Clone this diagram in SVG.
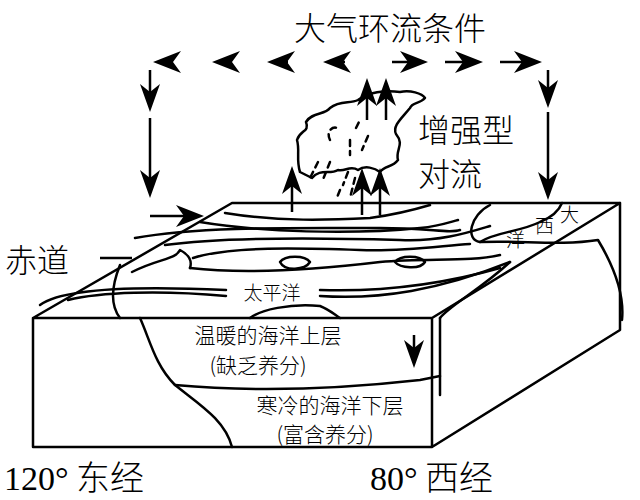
<svg xmlns="http://www.w3.org/2000/svg" width="640" height="500" viewBox="0 0 640 500">
<defs>
<path id="hl" d="M0,0 L28,-11 L20,0 L28,11 Z"/>
<path id="hr" d="M0,0 L-28,-11 L-20,0 L-28,11 Z"/>
<path id="hd" d="M0,0 L-10,-28 L0,-20 L10,-28 Z"/>
<path id="hu" d="M0,0 L-10,28 L0,20 L10,28 Z"/>
<style>
.l{fill:none;stroke:#000;stroke-width:2.5;stroke-linejoin:round;stroke-linecap:round}
.w{fill:none;stroke:#000;stroke-width:2.5}
.t{font-family:"Noto Sans CJK SC","Liberation Sans",sans-serif;font-weight:300;fill:#000}
.n{font-family:"Liberation Serif",serif;font-weight:400}
use{fill:#000}
</style>
</defs>
<rect width="640" height="500" fill="#fff"/>
<g id="block">
<path class="l" d="M232,203 L620,203 L620,330 L432,447 L33,447 L33,318 Z M33,318 L432,318 L620,203 M432,318 L432,447 M33,318 L232,203"/>
</g>
<g id="ocean" class="l">
<path d="M225,213 C280,222 330,220 370,218 C400,214 420,208 430,205"/>
<path d="M200,222 C260,232 350,235 420,228 C440,226 450,222 458,220"/>
<path d="M165,245 C230,236 330,238 400,240 C440,242 470,232 490,226"/>
<path d="M135,238 C200,226 300,228 380,228 C430,228 450,234 460,230"/>
<path d="M193,258 C230,246 300,248 360,250 C400,252 440,246 470,244"/>
<path d="M190,268 C250,275 330,268 380,262 C430,258 470,262 500,255"/>
<path d="M132,272 C160,258 175,260 180,250 C190,255 192,262 190,268"/>
<path d="M40,305 C60,290 120,285 226,290"/>
<path d="M68,300 C100,292 160,290 226,296 M320,290 C380,292 440,285 500,268"/>
<path d="M320,296 C380,300 440,290 510,262"/>
<path d="M280,262 C285,255 305,255 310,262 C305,270 285,272 280,262 Z"/>
<path d="M395,262 C400,255 420,255 425,262 C420,270 400,268 395,262 Z"/>
<path d="M120,265 C112,285 110,305 120,318"/>
<path d="M490,205 C470,215 465,240 480,242 C495,232 520,232 540,222 C555,216 560,208 562,203"/>
<path d="M480,242 C520,240 560,246 598,240 C610,260 625,290 622,320"/>
<path d="M510,262 C480,290 450,305 440,318"/>
<path d="M140,318 C150,340 155,365 175,385 C200,405 225,420 232,447"/>
<path d="M175,385 C250,392 330,390 420,380 L440,376"/>
<path d="M440,318 L440,395"/>
<path d="M250,318 C260,310 290,303 320,306 C330,310 335,315 340,318"/>
</g>
<g id="cloud">
<path class="l" d="M300,172 C296,160 300,150 297,140 C300,130 310,132 306,122 C312,112 325,115 330,108 C340,100 350,104 358,100 C368,92 385,90 400,92 C410,90 422,93 425,98 C420,104 412,102 410,108 C402,118 392,126 396,134 C405,145 395,150 398,160 C392,168 385,165 380,172 C375,168 365,165 358,170 C350,165 345,172 338,170 C330,175 320,168 312,178 Z"/>
<path class="l" d="M318,162 L310,178 M330,162 L322,182 M348,172 L343,185 M355,178 L350,198 M340,190 L336,200 M330,140 C325,130 335,124 340,130 M350,140 L350,155 M368,136 L362,150 M356,128 L360,120" stroke-dasharray="6 5"/>
</g>
<g id="connectors">
<path class="w" d="M168,62 H160 M232,62 H220 M288,62 H275 M345,62 H330 M392,62 H420 M445,62 H475 M500,62 H535 M150,70 V100 M150,118 V190 M150,216 H195 M548,70 V95 M548,112 V192 M292,212 V180 M362,215 V183 M380,215 V183 M367,120 V93 M386,120 V93 M414,335 V355 M100,258 H132"/>
<use href="#hl" x="153" y="62"/><use href="#hl" x="212" y="62"/><use href="#hl" x="267" y="62"/><use href="#hl" x="323" y="62"/>
<use href="#hr" x="428" y="62"/><use href="#hr" x="483" y="62"/><use href="#hr" x="542" y="62"/>
<use href="#hd" x="150" y="112"/><use href="#hd" x="150" y="198"/><use href="#hr" x="204" y="216"/>
<use href="#hd" x="548" y="108"/><use href="#hd" x="548" y="200"/>
<use href="#hu" x="292" y="166"/><use href="#hu" x="362" y="168"/><use href="#hu" x="380" y="168"/>
<use href="#hu" x="367" y="78"/><use href="#hu" x="386" y="78"/>
<use href="#hd" x="414" y="368"/>
</g>
<g id="labels" class="t">
<text x="390" y="40" font-size="32" text-anchor="middle">大气环流条件</text>
<text x="418" y="142" font-size="32">增强型</text>
<text x="418" y="186" font-size="32">对流</text>
<text x="5" y="272" font-size="32">赤道</text>
<text x="272" y="300" font-size="19" text-anchor="middle">太平洋</text>
<text x="506" y="247" font-size="19">洋</text>
<text x="535" y="233" font-size="19">西</text>
<text x="560" y="222" font-size="19">大</text>
<text x="268" y="343" font-size="21" text-anchor="middle">温暖的海洋上层</text>
<text x="258" y="373" font-size="21" text-anchor="middle">(缺乏养分)</text>
<text x="330" y="413" font-size="21" text-anchor="middle">寒冷的海洋下层</text>
<text x="325" y="442" font-size="21" text-anchor="middle">(富含养分)</text>
<text x="4" y="490" font-size="34"><tspan class="n">120°</tspan> 东经</text>
<text x="370" y="490" font-size="34"><tspan class="n">80°</tspan> 西经</text>
</g>
</svg>
